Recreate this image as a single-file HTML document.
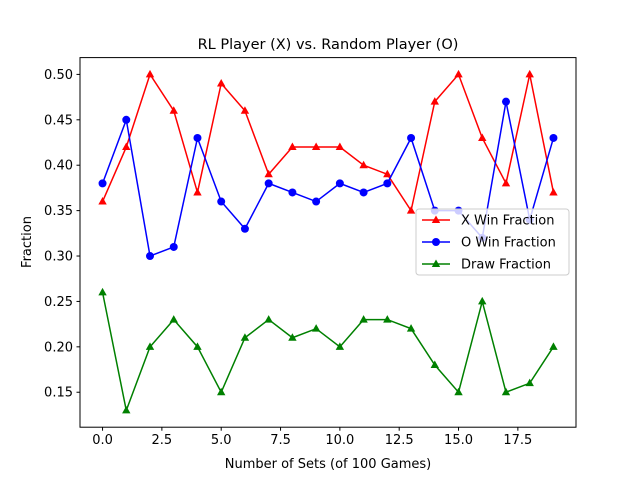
<!DOCTYPE html>
<html><head><meta charset="utf-8"><style>
body{margin:0;background:#fff}
svg{font-family:"DejaVu Sans","Liberation Sans",sans-serif}
</style></head><body>
<svg id="chart" width="640" height="480">
<rect width="640" height="480" fill="#fff"/>
<text x="328" y="49" font-size="14.5" text-anchor="middle">RL Player (X) vs. Random Player (O)</text>
<g id="ticks"></g>
<g id="series"></g>
<rect x="80" y="57.6" width="496" height="369.6" fill="none" stroke="#000" stroke-width="1"/>
<text x="328" y="468" font-size="13" text-anchor="middle">Number of Sets (of 100 Games)</text>
<text transform="translate(31,242) rotate(-90)" font-size="13" text-anchor="middle">Fraction</text>
<g id="legend">
<rect x="416" y="209" width="153" height="66" rx="3" fill="#fff" fill-opacity="0.8" stroke="#ccc"/>
</g>
</svg>
<script>
const xWin=[0.36,0.42,0.50,0.46,0.37,0.49,0.46,0.39,0.42,0.42,0.42,0.40,0.39,0.35,0.47,0.50,0.43,0.38,0.50,0.37];
const oWin=[0.38,0.45,0.30,0.31,0.43,0.36,0.33,0.38,0.37,0.36,0.38,0.37,0.38,0.43,0.35,0.35,0.32,0.47,0.34,0.43];
const draw=[0.26,0.13,0.20,0.23,0.20,0.15,0.21,0.23,0.21,0.22,0.20,0.23,0.23,0.22,0.18,0.15,0.25,0.15,0.16,0.20];
const xTicks=[0,2.5,5,7.5,10,12.5,15,17.5];
const xTickLabels=["0.0","2.5","5.0","7.5","10.0","12.5","15.0","17.5"];
const yTicks=[0.15,0.20,0.25,0.30,0.35,0.40,0.45,0.50];
const yTickLabels=["0.15","0.20","0.25","0.30","0.35","0.40","0.45","0.50"];
const NS='http://www.w3.org/2000/svg';
const L=80,R=576,T=57.6,B=427.2;
const all=xWin.concat(oWin,draw);
const n=xWin.length;
const xmin=-0.05*(n-1),xmax=(n-1)*1.05;
const dmin=Math.min(...all),dmax=Math.max(...all),pad=(dmax-dmin)*0.05;
const ymin=dmin-pad,ymax=dmax+pad;
const sx=v=>L+(v-xmin)/(xmax-xmin)*(R-L);
const sy=v=>B-(v-ymin)/(ymax-ymin)*(B-T);
function mk(tag,attrs,parent){const e=document.createElementNS(NS,tag);for(const k in attrs)e.setAttribute(k,attrs[k]);parent.appendChild(e);return e;}
const tk=document.getElementById('ticks');
xTicks.forEach((v,i)=>{const x=sx(v);
 const l=mk('line',{x1:x,x2:x,y1:B,y2:B+3.5,stroke:'#000'},tk);
 
 
 const t=mk('text',{x:x,y:B+17,'font-size':'13','text-anchor':'middle'},tk);t.textContent=xTickLabels[i];
 
 });
yTicks.forEach((v,i)=>{const y=sy(v);
 const l=mk('line',{x1:L-3.5,x2:L,y1:y,y2:y,stroke:'#000'},tk);
 
 
 const t=mk('text',{x:L-7,y:y+4.5,'font-size':'13','text-anchor':'end'},tk);t.textContent=yTickLabels[i];
 
 });
const sg=document.getElementById('series');
function tri(x,y,c,p){return mk('polygon',{points:`${x},${y-4.5} ${x-4.2},${y+3} ${x+4.2},${y+3}`,fill:c},p);}
function series(data,color,marker,name){
 const g=mk('g',{},sg);
 
 
 mk('polyline',{points:data.map((v,i)=>sx(i)+','+sy(v)).join(' '),fill:'none',stroke:color,'stroke-width':1.5},g);
 data.forEach((v,i)=>{let m;
  if(marker==='o')m=mk('circle',{cx:sx(i),cy:sy(v),r:4,fill:color},g);else m=tri(sx(i),sy(v),color,g);
  
  });
}
series(xWin,'#ff0000','^','x-win-series');
series(oWin,'#0000ff','o','o-win-series');
series(draw,'#008000','^','draw-series');
const lg=document.getElementById('legend');
[['X Win Fraction','#ff0000','^'],['O Win Fraction','#0000ff','o'],['Draw Fraction','#008000','^']].forEach((e,i)=>{
 const y=220+i*22;
 const g=mk('g',{},lg);
 
 
 mk('line',{x1:422,x2:450,y1:y,y2:y,stroke:e[1],'stroke-width':1.5},g);
 if(e[2]==='o')mk('circle',{cx:436,cy:y,r:4,fill:e[1]},g);else tri(436,y,e[1],g);
 const t=mk('text',{x:461,y:y+4.5,'font-size':'13'},g);t.textContent=e[0];
});
</script>
</body></html>
